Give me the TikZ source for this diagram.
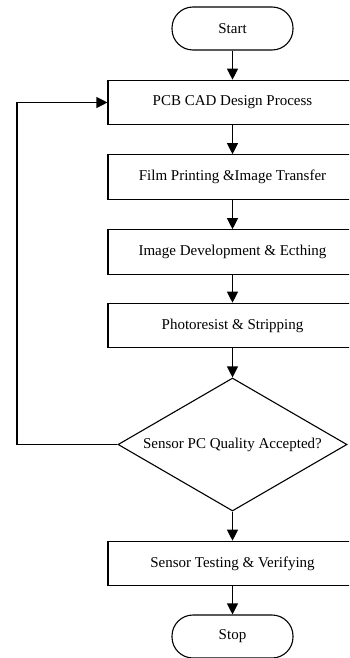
\documentclass[tikz,border=0pt]{standalone}
\usepackage{fontspec}
\setmainfont{Liberation Serif}
\usetikzlibrary{shapes.geometric,arrows.meta}
\begin{document}
\begin{tikzpicture}[x=1pt,y=-1pt,
  every node/.style={font=\fontsize{15}{18}\selectfont, text=black},
  proc/.style={draw, line width=1.1pt, minimum width=249pt, minimum height=44.5pt, inner sep=0pt},
  term/.style={draw, line width=1.1pt, rounded corners=21pt, minimum width=121pt, minimum height=43pt, inner sep=0pt},
  dec/.style={draw, diamond, aspect=1.72, line width=1.1pt, minimum width=229pt, minimum height=133pt, inner sep=0pt},
  arr/.style={line width=1.1pt, -{Triangle[length=11pt,width=11pt]}}]
\useasboundingbox (0,0) rectangle (349,658);
\clip (0,0) rectangle (349,658);
\node[term] (start) at (232.5,28.5) {Start};
\node[proc] (pcb) at (232.5,102.5) {PCB CAD Design Process};
\node[proc] (film) at (232.5,177) {Film Printing \&Image Transfer};
\node[proc] (img) at (232.5,252) {Image Development \& Ecthing};
\node[proc] (photo) at (232.5,325.5) {Photoresist \& Stripping};
\node[dec] (q) at (232.5,444.5) {Sensor PC Quality Accepted?};
\node[proc] (test) at (232.5,563.5) {Sensor Testing \& Verifying};
\node[term] (stop) at (232.5,636.5) {Stop};
\coordinate (fb) at (17,444.5);
\draw[arr] (start) -- (pcb);
\draw[arr] (pcb) -- (film);
\draw[arr] (film) -- (img);
\draw[arr] (img) -- (photo);
\draw[arr] (photo) -- (q);
\draw[arr] (q) -- (test);
\draw[arr] (test) -- (stop);
\draw[arr] (q.west) -- (fb) |- (pcb.west);
\end{tikzpicture}
\end{document}
